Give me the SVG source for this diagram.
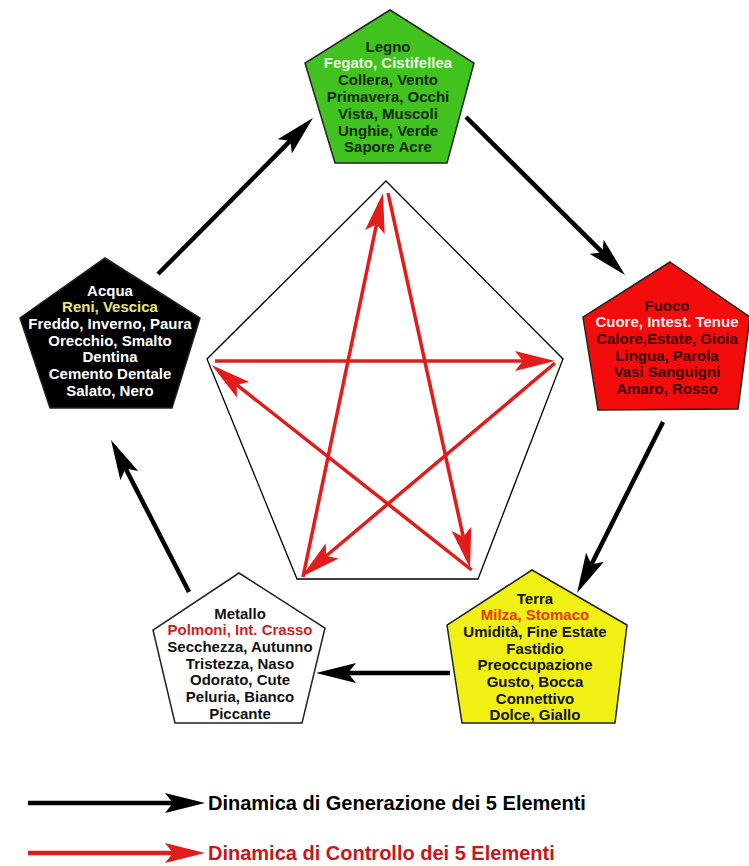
<svg xmlns="http://www.w3.org/2000/svg" width="749" height="866" viewBox="0 0 749 866">
<style>
.t{font-family:"Liberation Sans",Arial,sans-serif;font-weight:bold;font-size:15px;text-anchor:middle}
.pent{stroke:#222;stroke-width:1.5;stroke-linejoin:miter}
.gen{stroke:#000;stroke-width:4.5;fill:none;marker-end:url(#hb)}
.ctl{stroke:#e31b1b;stroke-width:3.5;fill:none;marker-end:url(#hr)}
.leg{font-family:"Liberation Sans",Arial,sans-serif;font-weight:bold;font-size:20px}
</style>
<defs>
<marker id="hb" markerUnits="userSpaceOnUse" viewBox="0 -12 44 24" markerWidth="44" markerHeight="24" refX="8" refY="0" orient="auto">
<path d="M0,-10 L40,0 L0,10 L8,0 Z" fill="#000"/>
</marker>
<marker id="hr" markerUnits="userSpaceOnUse" viewBox="0 -12 44 24" markerWidth="44" markerHeight="24" refX="8" refY="0" orient="auto">
<path d="M0,-10 L40,0 L0,10 L8,0 Z" fill="#e31b1b"/>
</marker>
</defs>
<rect width="749" height="866" fill="#fff"/>

<g id="centro">
<polygon points="386,181 563,359 478,579 297,579 207,359" fill="#fff" stroke="#000" stroke-width="1.3"/>
</g>

<g id="legno">
<polygon class="pent" points="390,10 474,63 447,163 335,163 305,63" fill="#41c21f"/>
<text class="t" x="388" y="51.5" fill="#102a08">Legno</text>
<text class="t" x="388" y="68.3" fill="#f0fae8">Fegato, Cistifellea</text>
<text class="t" x="388" y="85.1" fill="#102a08">Collera, Vento</text>
<text class="t" x="388" y="101.9" fill="#102a08">Primavera, Occhi</text>
<text class="t" x="388" y="118.7" fill="#102a08">Vista, Muscoli</text>
<text class="t" x="388" y="135.5" fill="#102a08">Unghie, Verde</text>
<text class="t" x="388" y="152.3" fill="#102a08">Sapore Acre</text>
</g>

<g id="fuoco">
<polygon class="pent" points="670,262 750,317 738,409 598,410 583,317" fill="#f20c0c"/>
<text class="t" x="667" y="310.5" fill="#3c0000">Fuoco</text>
<text class="t" x="667" y="327.2" fill="#ffe8e8">Cuore, Intest. Tenue</text>
<text class="t" x="667" y="343.9" fill="#3c0000">Calore,Estate, Gioia</text>
<text class="t" x="667" y="360.6" fill="#3c0000">Lingua, Parola</text>
<text class="t" x="667" y="377.3" fill="#3c0000">Vasi Sanguigni</text>
<text class="t" x="667" y="394" fill="#3c0000">Amaro, Rosso</text>
</g>

<g id="acqua">
<polygon class="pent" points="105,258 200,318 172,408 50,408 20,318" fill="#000"/>
<text class="t" x="110" y="295.5" fill="#fff">Acqua</text>
<text class="t" x="110" y="312.2" fill="#e8e87a">Reni, Vescica</text>
<text class="t" x="110" y="328.9" fill="#fff">Freddo, Inverno, Paura</text>
<text class="t" x="110" y="345.6" fill="#fff">Orecchio, Smalto</text>
<text class="t" x="110" y="362.3" fill="#fff">Dentina</text>
<text class="t" x="110" y="379" fill="#fff">Cemento Dentale</text>
<text class="t" x="110" y="395.7" fill="#fff">Salato, Nero</text>
</g>

<g id="metallo">
<polygon class="pent" points="239,573 325,628 302,723 175,723 153,630" fill="#fff"/>
<text class="t" x="240" y="618.5" fill="#111">Metallo</text>
<text class="t" x="240" y="635.2" fill="#d11f1f">Polmoni, Int. Crasso</text>
<text class="t" x="240" y="651.9" fill="#111">Secchezza, Autunno</text>
<text class="t" x="240" y="668.6" fill="#111">Tristezza, Naso</text>
<text class="t" x="240" y="685.3" fill="#111">Odorato, Cute</text>
<text class="t" x="240" y="702" fill="#111">Peluria, Bianco</text>
<text class="t" x="240" y="718.7" fill="#111">Piccante</text>
</g>

<g id="terra">
<polygon class="pent" points="532,570 627,625 615,723 462,723 447,625" fill="#f0f014"/>
<text class="t" x="535" y="603.5" fill="#111">Terra</text>
<text class="t" x="535" y="620.2" fill="#e8380c">Milza, Stomaco</text>
<text class="t" x="535" y="636.9" fill="#111">Umidità, Fine Estate</text>
<text class="t" x="535" y="653.6" fill="#111">Fastidio</text>
<text class="t" x="535" y="670.3" fill="#111">Preoccupazione</text>
<text class="t" x="535" y="687" fill="#111">Gusto, Bocca</text>
<text class="t" x="535" y="703.7" fill="#111">Connettivo</text>
<text class="t" x="535" y="720.4" fill="#111">Dolce, Giallo</text>
</g>

<g id="connettori">
<line class="gen" x1="158" y1="274" x2="290.4" y2="140.7"/>
<line class="gen" x1="466" y1="117" x2="602.3" y2="252.4"/>
<line class="gen" x1="663" y1="422" x2="591.4" y2="564.4"/>
<line class="gen" x1="450" y1="673" x2="348" y2="673"/>
<line class="gen" x1="189" y1="592" x2="125.6" y2="468.5"/>
<line class="ctl" x1="303" y1="577" x2="376.5" y2="224.3"/>
<line class="ctl" x1="388" y1="193" x2="463.2" y2="536.7"/>
<line class="ctl" x1="471.7" y1="570" x2="236.8" y2="384.8"/>
<line class="ctl" x1="215" y1="361" x2="523" y2="361"/>
<line class="ctl" x1="555" y1="363" x2="326.1" y2="556"/>
</g>

<g id="legenda">
<line class="gen" x1="28" y1="803" x2="173" y2="803"/>
<text class="leg" x="208" y="810" fill="#000">Dinamica di Generazione dei 5 Elementi</text>
<line class="ctl" x1="28" y1="853" x2="173" y2="853" style="stroke-width:4.5"/>
<text class="leg" x="208" y="860" fill="#c8161b">Dinamica di Controllo dei 5 Elementi</text>
</g>
</svg>
